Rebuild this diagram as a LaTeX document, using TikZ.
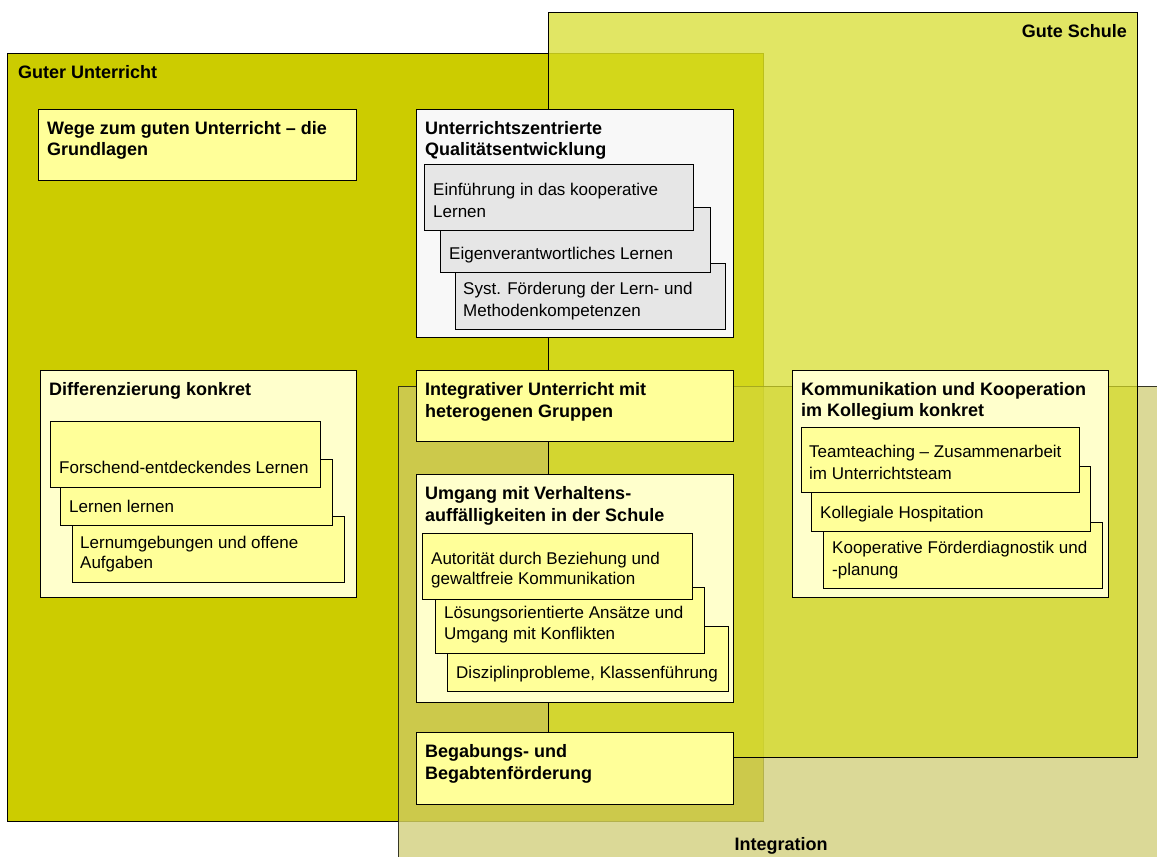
\documentclass[tikz,border=0pt]{standalone}
\usepackage{fontspec}
\setmainfont{Liberation Sans}
\usetikzlibrary{shadows}
\definecolor{guC}{HTML}{CCCC00}
\definecolor{gsC}{RGB}{214,220,37}
\definecolor{inC}{RGB}{204,201,107}
\definecolor{yelC}{HTML}{FFFF99}
\definecolor{paleC}{HTML}{FFFFCC}
\definecolor{grayOut}{HTML}{F8F8F8}
\definecolor{grayIn}{HTML}{E6E6E6}
\tikzset{
 region/.style={draw=black, line width=0.8pt},
 boxbase/.style={draw=black, line width=0.8pt, anchor=north west, inner sep=0pt, outer sep=0pt,
   drop shadow={shadow xshift=1.2pt, shadow yshift=-1.2pt, opacity=0.3}},
 ybox/.style={boxbase, fill=yelC},
 pbox/.style={boxbase, fill=paleC},
 gobox/.style={boxbase, fill=grayOut},
 gibox/.style={boxbase, fill=grayIn},
 tb/.style={anchor=base west, inner sep=0pt, font=\fontsize{18}{21}\selectfont\bfseries},
 tr/.style={anchor=base west, inner sep=0pt, font=\fontsize{17}{21}\selectfont},
}
\begin{document}
\begin{tikzpicture}[x=1pt,y=-1pt]
\clip (0,0) rectangle (1157,857);
\fill[white] (0,0) rectangle (1157,857);
% regions
\fill[guC] (7,53) rectangle (763,821);
\draw[line width=0.8pt, guC!60!black] (548,53) -- (763,53) -- (763,821) -- (398,821);
\draw[line width=0.8pt, black] (548,53) -- (7,53) -- (7,821) -- (398,821);
\path[region, fill=inC, fill opacity=0.7, draw opacity=0.75] (398,386) rectangle (1175,875);
\path[region, fill=gsC, fill opacity=0.71] (548,12) rectangle (1137,757);
\node[tb] (lgu) at (18,78) {Guter Unterricht};
\node[tb, anchor=base east] (lgs) at (1127,37) {Gute Schule};
\node[tb, anchor=base] (lint) at (781,850) {Integration};
% Wege
\node[ybox, minimum width=318pt, minimum height=71pt] (wege) at (38,109) {};
\node[tb] (wege1) at (47,134) {Wege zum guten Unterricht – die};
\node[tb] (wege2) at (47,155) {Grundlagen};
% Unterrichtszentrierte Qualitaetsentwicklung
\node[gobox, minimum width=317pt, minimum height=228pt] (uz) at (416,109) {};
\node[tb] (uz1) at (425,134) {Unterrichtszentrierte};
\node[tb] (uz2) at (425,155) {Qualitätsentwicklung};
\node[gibox, minimum width=270pt, minimum height=66pt] (uzc) at (455,263) {};
\node[gibox, minimum width=270pt, minimum height=65pt] (uzb) at (440,207) {};
\node[gibox, minimum width=269pt, minimum height=66pt] (uza) at (424,164) {};
\node[tr] (uza1) at (433,195) {Einführung in das kooperative};
\node[tr] (uza2) at (433,217) {Lernen};
\node[tr] (uzb1) at (449,259) {Eigenverantwortliches Lernen};
\node[tr] (uzc1) at (463,294) {Syst. Förderung der Lern- und};
\node[tr] (uzc2) at (463,316) {Methodenkompetenzen};
% Differenzierung
\node[pbox, minimum width=316pt, minimum height=227pt] (diff) at (40,370) {};
\node[tb] (diff1) at (49,395) {Differenzierung konkret};
\node[ybox, minimum width=272pt, minimum height=66pt] (diffc) at (72,516) {};
\node[ybox, minimum width=272pt, minimum height=66pt] (diffb) at (60,459) {};
\node[ybox, minimum width=270pt, minimum height=66pt] (diffa) at (50,421) {};
\node[tr] (diffa1) at (59,473) {Forschend-entdeckendes Lernen};
\node[tr] (diffb1) at (69,512) {Lernen lernen};
\node[tr] (diffc1) at (80,548) {Lernumgebungen und offene};
\node[tr] (diffc2) at (80,568) {Aufgaben};
% Integrativer Unterricht
\node[ybox, minimum width=317pt, minimum height=71pt] (integ) at (416,370) {};
\node[tb] (integ1) at (425,395) {Integrativer Unterricht mit};
\node[tb] (integ2) at (425,417) {heterogenen Gruppen};
% Umgang
\node[pbox, minimum width=317pt, minimum height=228pt] (umg) at (416,474) {};
\node[tb] (umg1) at (425,499) {Umgang mit Verhaltens-};
\node[tb] (umg2) at (425,521) {auffälligkeiten in der Schule};
\node[ybox, minimum width=281pt, minimum height=65pt] (umgc) at (447,626) {};
\node[ybox, minimum width=269pt, minimum height=66pt] (umgb) at (435,587) {};
\node[ybox, minimum width=270pt, minimum height=66pt] (umga) at (422,533) {};
\node[tr] (umga1) at (431,564) {Autorität durch Beziehung und};
\node[tr] (umga2) at (431,584) {gewaltfreie Kommunikation};
\node[tr] (umgb1) at (444,618) {Lösungsorientierte Ansätze und};
\node[tr] (umgb2) at (444,639) {Umgang mit Konflikten};
\node[tr] (umgc1) at (456,678) {Disziplinprobleme, Klassenführung};
% Begabung
\node[ybox, minimum width=317pt, minimum height=72pt] (beg) at (416,732) {};
\node[tb] (beg1) at (425,757) {Begabungs- und};
\node[tb] (beg2) at (425,779) {Begabtenförderung};
% Kommunikation
\node[pbox, minimum width=316pt, minimum height=227pt] (komm) at (792,370) {};
\node[tb] (komm1) at (801,395) {Kommunikation und Kooperation};
\node[tb] (komm2) at (801,416) {im Kollegium konkret};
\node[ybox, minimum width=279pt, minimum height=66pt] (kommc) at (823,522) {};
\node[ybox, minimum width=279pt, minimum height=65pt] (kommb) at (811,466) {};
\node[ybox, minimum width=278pt, minimum height=65pt] (komma) at (801,427) {};
\node[tr] (komma1) at (809,457) {Teamteaching – Zusammenarbeit};
\node[tr] (komma2) at (809,479) {im Unterrichtsteam};
\node[tr] (kommb1) at (820,518) {Kollegiale Hospitation};
\node[tr] (kommc1) at (832,553) {Kooperative Förderdiagnostik und};
\node[tr] (kommc2) at (832,575) {-planung};
\end{tikzpicture}
\end{document}
